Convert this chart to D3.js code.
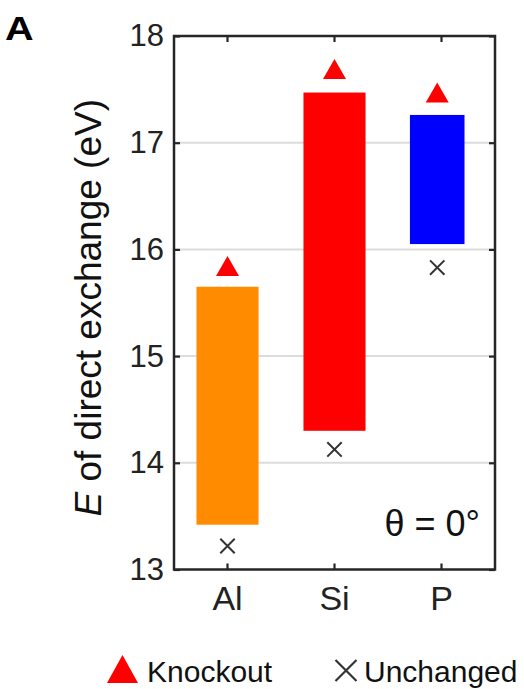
<!DOCTYPE html>
<html>
<head>
<meta charset="utf-8">
<script src="https://cdn.jsdelivr.net/npm/d3@7"></script>
<style>
  html, body { margin: 0; padding: 0; background: #fff; }
  svg { display: block; font-family: "Liberation Sans", Arial, Helvetica, sans-serif; }
</style>
</head>
<body>
<svg id="chart" width="524" height="689"></svg>
<script>
// ---- data ----
const categories = ["Al", "Si", "P"];
const rangeLow = [13.42, 14.30, 16.05];
const rangeHigh = [15.65, 17.47, 17.26];
const knockout = [15.845, 17.69, 17.47];
const unchanged = [13.22, 14.125, 15.83];
const barColors = ["#ff8c00", "#ff0000", "#0000ff"];
const yTicks = [13, 14, 15, 16, 17, 18];
const yLabelPlain = " of direct exchange (eV)";
const annotation = "θ = 0°";
const legendLabels = ["Knockout", "Unchanged"];

// ---- layout / style ----
const plot = { left: 174, right: 495, top: 36, bottom: 569.5 };
const barFrac = [0.58, 0.58, 0.51];
const barShift = [0, 0, -0.04];
const axisColor = "#262626";

const svg = d3.select("#chart");

const x = d3.scaleBand().domain(categories).range([plot.left, plot.right]).padding(0);
const y = d3.scaleLinear().domain([13, 18]).range([plot.bottom, plot.top]);
const bw = x.bandwidth();
const cx = (c, i) => x(c) + bw / 2 + barShift[i] * bw;

// gridlines
svg.append("g").selectAll("line").data(yTicks.filter(t => t > 13 && t < 18)).join("line")
  .attr("x1", plot.left).attr("x2", plot.right)
  .attr("y1", d => y(d)).attr("y2", d => y(d))
  .attr("stroke", "#dcdcdc").attr("stroke-width", 2);

// bars
svg.append("g").selectAll("rect").data(categories).join("rect")
  .attr("x", (c, i) => cx(c, i) - barFrac[i] * bw / 2)
  .attr("width", (c, i) => barFrac[i] * bw)
  .attr("y", (c, i) => y(rangeHigh[i]))
  .attr("height", (c, i) => y(rangeLow[i]) - y(rangeHigh[i]))
  .attr("fill", (c, i) => barColors[i]);

// knockout triangles
const tri = (w, h) => `M0,${-h/2}L${w/2},${h/2}L${-w/2},${h/2}Z`;
svg.append("g").selectAll("path").data(categories).join("path")
  .attr("d", tri(23, 20))
  .attr("transform", (c, i) => `translate(${cx(c, i)},${y(knockout[i])})`)
  .attr("fill", "#ff0000");

// unchanged crosses
const cross = s => `M${-s},${-s}L${s},${s}M${-s},${s}L${s},${-s}`;
svg.append("g").selectAll("path").data(categories).join("path")
  .attr("d", cross(7.2))
  .attr("transform", (c, i) => `translate(${cx(c, i)},${y(unchanged[i])})`)
  .attr("fill", "none").attr("stroke", "#333").attr("stroke-width", 2);

// axes (box with inward ticks)
const tickLen = 6;
const yAxisL = d3.axisLeft(y).tickValues(yTicks).tickSize(-tickLen).tickPadding(10).tickFormat(d3.format("d"));
const yAxisR = d3.axisRight(y).tickValues(yTicks).tickSize(-tickLen).tickFormat("");
const xAxisB = d3.axisBottom(x).tickSize(-tickLen).tickPadding(16);
const xAxisT = d3.axisTop(x).tickSize(-tickLen).tickFormat("");

function style(g, fs) {
  g.select(".domain").remove();
  g.selectAll(".tick line").attr("stroke", axisColor).attr("stroke-width", 2.2);
  g.selectAll(".tick text").attr("fill", "#222").attr("font-size", fs)
    .attr("font-family", '"Liberation Sans", Arial, sans-serif');
}
svg.append("g").attr("transform", `translate(${plot.left},0)`).call(yAxisL).call(g => style(g, 31));
svg.append("g").attr("transform", `translate(${plot.right},0)`).call(yAxisR).call(g => style(g, 31));
svg.append("g").attr("transform", `translate(0,${plot.bottom})`).call(xAxisB).call(g => style(g, 34));
svg.append("g").attr("transform", `translate(0,${plot.top})`).call(xAxisT).call(g => style(g, 34));

// box
svg.append("rect")
  .attr("x", plot.left).attr("y", plot.top)
  .attr("width", plot.right - plot.left).attr("height", plot.bottom - plot.top)
  .attr("fill", "none").attr("stroke", axisColor).attr("stroke-width", 2.5);

// y label
const yl = svg.append("text")
  .attr("transform", `translate(101,${(plot.top + plot.bottom) / 2 + 5}) rotate(-90)`)
  .attr("text-anchor", "middle").attr("font-size", 37).attr("fill", "#111");
yl.append("tspan").attr("font-style", "italic").text("E");
yl.append("tspan").text(yLabelPlain);

// annotation
svg.append("text").attr("x", 480).attr("y", 536).attr("text-anchor", "end")
  .attr("font-size", 36).attr("fill", "#111").text(annotation);

// panel letter
svg.append("text").attr("x", 5).attr("y", 40).attr("font-size", 33)
  .attr("font-weight", "bold").attr("fill", "#000")
  .attr("transform", "translate(5,40) scale(1.2,1) translate(-5,-40)")
  .text("A");

// legend
const lg = svg.append("g");
lg.append("path").attr("d", tri(31, 28)).attr("transform", "translate(122.5,669)").attr("fill", "#ff0000");
lg.append("text").attr("x", 147).attr("y", 682).attr("font-size", 30).attr("fill", "#111").text(legendLabels[0]);
lg.append("path").attr("d", cross(10.5)).attr("transform", "translate(346,670.5)")
  .attr("fill", "none").attr("stroke", "#333").attr("stroke-width", 2.2);
lg.append("text").attr("x", 364).attr("y", 682).attr("font-size", 30).attr("fill", "#111").text(legendLabels[1]);
</script>
</body>
</html>
